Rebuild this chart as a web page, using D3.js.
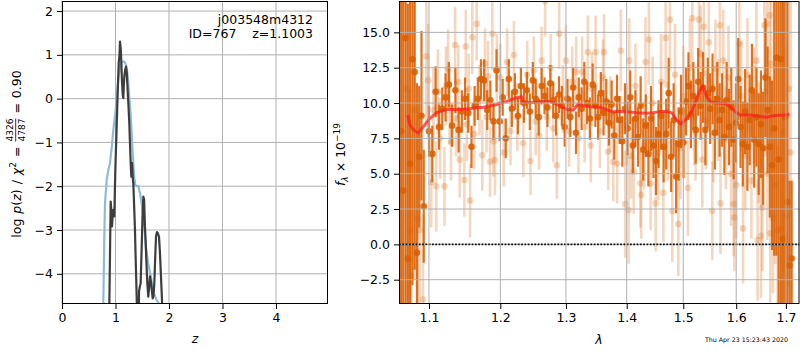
<!DOCTYPE html>
<html><head><meta charset="utf-8">
<script src="https://cdn.jsdelivr.net/npm/d3@7"></script>
<style>
body{margin:0;background:#fff}
svg{display:block}
text{font-family:"DejaVu Sans",sans-serif}
</style>
</head><body>
<svg id="c" width="800" height="350"></svg>
<script>
// ---------------- DATA ----------------
// Left panel: p(z)
const pzBlueZ = [0.76,0.772,0.79,0.804,0.835,0.87,0.897,0.93,0.96,0.99,1.01,1.05,1.08,1.10,1.146,1.17,1.196,1.22,1.24,1.26,1.29,1.32,1.35,1.37,1.40,1.43,1.458,1.49,1.52,1.55,1.57,1.61,1.66,1.71,1.77,1.83,1.9];
const pzBlueLogp = [-6,-4.69,-3.2,-2.39,-1.86,-1.6,-1.47,-1.1,-0.71,-0.4,-0.18,0.43,0.7,0.81,0.85,0.84,0.77,0.6,0.35,0.0,-0.5,-1.2,-1.8,-1.97,-2.0,-2.0,-2.16,-2.4,-2.69,-3.05,-3.38,-3.76,-4.06,-4.44,-4.6,-4.72,-5.0];
const pzDarkZ = [0.875,0.885,0.91,0.925,0.935,0.95,0.96,0.978,0.99,1.0,1.02,1.04,1.06,1.075,1.084,1.10,1.11,1.12,1.135,1.146,1.155,1.165,1.18,1.196,1.21,1.22,1.24,1.258,1.27,1.284,1.296,1.31,1.322,1.333,1.35,1.364,1.38,1.396,1.41,1.43,1.44,1.455,1.47,1.49,1.505,1.52,1.535,1.55,1.564,1.58,1.595,1.613,1.63,1.645,1.665,1.695,1.71,1.726,1.74,1.757,1.775,1.789,1.813,1.83,1.845,1.869,1.88];
const pzDarkLogp = [-6,-4.69,-2.35,-2.6,-2.92,-2.6,-2.54,-2.69,-2.0,-1.5,-0.71,0.1,0.81,1.0,1.30,1.11,0.8,0.43,0.1,0.01,0.3,0.50,0.65,0.73,0.6,0.35,-0.1,-0.56,-1.0,-1.47,-1.78,-1.47,-1.8,-1.93,-2.5,-3.0,-3.8,-4.52,-5.5,-5.5,-4.4,-4.29,-4.22,-3.38,-2.7,-2.24,-2.3,-2.9,-3.30,-3.8,-4.22,-4.52,-4.3,-4.06,-4.2,-4.56,-4.5,-4.21,-3.7,-3.15,-3.05,-3.07,-3.15,-3.5,-3.91,-4.6,-5.5];
const leftXTicks = [0,1,2,3,4];
const leftYTicks = [2,1,0,-1,-2,-3,-4];
const objName = "j003548m4312";
const objInfo = "ID=767    z=1.1003";

// Right panel: spectrum
const rightXTicks = [1.1,1.2,1.3,1.4,1.5,1.6,1.7];
const rightYTicks = [15,12.5,10,7.5,5,2.5,0,-2.5];

const darkWave = [1.0630,1.0660,1.0690,1.0720,1.0750,1.0780,1.0810,1.0840,1.0870,1.0900,1.0930,
1.1000,1.1045,1.1090,1.1135,1.1180,1.1225,1.1270,1.1315,1.1360,1.1405,1.1450,1.1495,1.1540,1.1585,1.1630,1.1675,1.1720,1.1765,1.1810,1.1855,1.1900,1.1945,1.1990,
1.2035,1.2080,1.2125,1.2170,1.2215,1.2260,1.2305,1.2350,1.2395,1.2440,1.2485,1.2530,1.2575,1.2620,1.2665,1.2710,1.2755,1.2800,1.2845,1.2890,1.2935,1.2980,
1.3025,1.3070,1.3115,1.3160,1.3205,1.3250,1.3295,1.3340,1.3385,1.3430,1.3475,1.3520,1.3565,1.3610,1.3655,1.3700,1.3745,1.3790,1.3835,1.3880,1.3925,1.3970,
1.4015,1.4060,1.4105,1.4150,1.4195,1.4240,1.4285,1.4330,1.4375,1.4420,1.4465,1.4510,1.4555,1.4600,1.4645,1.4690,1.4735,1.4780,1.4825,1.4870,1.4915,1.4960,
1.5005,1.5050,1.5095,1.5140,1.5185,1.5230,1.5275,1.5320,1.5365,1.5410,1.5455,1.5500,1.5545,1.5590,1.5635,1.5680,1.5725,1.5770,1.5815,1.5860,1.5905,1.5950,1.5995,
1.6040,1.6085,1.6130,1.6175,1.6220,1.6265,1.6310,1.6355,1.6400,1.6445,1.6490,1.6535,1.6580,1.6625,1.6670,1.6715,1.6760,1.6805,1.6850,1.6895,1.6940,1.6985,
1.7030,1.7075,1.7120];
const darkFlux = [8.0,3.8,14.6,-1.0,5.7,13.1,12.2,-0.6,6.2,9.1,2.7,
8.0,6.4,10.8,8.3,9.6,10.4,11.3,8.4,10.9,8.1,9.4,10.3,9.3,6.9,9.8,10.3,11.7,11.6,9.5,10.2,8.7,12.3,8.7,
10.4,7.5,11.7,9.6,10.8,9.1,11.2,10.0,10.9,9.4,11.6,10.3,9.0,11.2,10.5,9.7,11.4,10.2,9.1,10.6,9.8,8.3,
10.3,9.0,11.1,7.9,10.4,9.6,11.5,10.0,8.9,11.3,9.8,9.0,10.7,9.3,10.1,8.6,9.9,7.7,10.3,8.8,7.3,9.6,
8.2,10.4,7.0,8.9,7.6,9.8,6.7,8.4,6.4,8.9,7.0,5.9,7.8,9.1,6.9,7.8,10.7,6.2,8.8,4.8,7.1,9.4,
7.2,10.1,11.2,9.2,10.5,8.1,11.5,9.8,11.1,8.1,10.7,9.6,11.0,7.9,10.3,8.8,9.5,7.6,10.2,8.3,9.7,7.4,8.6,
11.7,8.3,7.1,9.4,6.9,8.8,10.9,7.4,9.0,7.1,8.5,6.8,11.8,9.5,6.9,5.6,8.2,13.2,6.0,13.1,0.4,9.0,
3.0,-1.5,-1.0];
const darkErr = [20,20,20,18,18,16,14,12,5,6,4,
1.8,2.0,1.8,1.6,1.5,1.7,1.6,1.5,1.6,1.6,1.5,1.5,1.4,1.5,1.4,1.5,1.4,1.5,1.4,1.4,1.3,1.5,1.4,
1.3,1.4,1.4,1.3,1.3,1.3,1.3,1.4,1.3,1.3,1.3,1.4,1.3,1.3,1.3,1.4,1.3,1.3,1.4,1.3,1.4,1.4,
1.4,1.4,1.4,1.5,1.4,1.5,1.4,1.5,1.5,1.5,1.5,1.6,1.5,1.6,1.6,1.6,1.7,1.7,1.7,1.7,1.8,1.8,
1.9,1.9,2.0,2.0,2.1,2.1,2.2,2.2,2.3,2.3,2.3,2.4,2.4,2.4,2.5,2.5,2.5,2.5,2.6,2.6,2.6,2.6,
2.5,2.4,2.4,2.4,2.4,2.4,2.4,2.4,2.5,2.5,2.5,2.5,2.5,2.6,2.6,2.6,2.6,2.7,2.7,2.7,2.8,2.8,2.8,
2.9,2.9,3.0,3.0,3.1,3.2,3.3,3.4,3.5,3.6,3.8,4.0,4.2,4.5,5,6,9,14,16,20,22,22,
22,6,5.5];

const lightWave = [1.0640,1.0700,1.0730,1.0749,1.0765,1.0800,1.0850,1.0875,1.0920,1.0965,
1.0990,1.1031,1.1060,1.1098,1.1120,1.1150,1.1210,1.1230,1.1260,1.1280,
1.1300,1.1356,1.1370,1.1400,1.1420,1.1485,1.1505,1.1520,1.1545,1.1565,
1.1597,1.1620,1.1660,1.1700,1.1739,1.1778,1.1800,1.1820,1.1850,1.1883,
1.1900,1.1922,1.1950,1.2000,1.2050,1.2100,1.2150,1.2200,1.2250,1.2341,
1.2400,1.2450,1.2500,1.2530,1.2581,1.2620,1.2674,1.2700,1.2760,1.2800,
1.2857,1.2893,1.2950,1.3000,1.3050,1.3100,1.3163,1.3200,1.3260,1.3300,
1.3352,1.3400,1.3420,1.3479,1.3550,1.3600,1.3619,1.3687,1.3720,1.3772,
1.3837,1.3900,1.3974,1.4000,1.4032,1.4043,1.4075,1.4119,1.4150,1.4236,
1.4250,1.4300,1.4325,1.4384,1.4414,1.4450,1.4503,1.4550,1.4600,1.4640,
1.4681,1.4720,1.4758,1.4801,1.4850,1.4910,1.4950,1.5000,1.5085,1.5120,
1.5166,1.5200,1.5227,1.5289,1.5320,1.5352,1.5381,1.5420,1.5475,1.5540,
1.5560,1.5600,1.5650,1.5684,1.5697,1.5750,1.5800,1.5850,1.5900,1.5951,
1.5965,1.6003,1.6062,1.6100,1.6134,1.6180,1.6220,1.6300,1.6350,1.6400,
1.6423,1.6450,1.6491,1.6520,1.6558,1.6580,1.6613,1.6620,1.6666,1.6680,
1.6700,1.6735,1.6780,1.6830,1.6900,1.6950,1.7000,1.7059,1.7100];
const lightFlux = [8.0,11.0,-1.1,1.0,-2.2,9.5,1.8,1.0,-3.9,13.3,
11.6,4.4,9.5,4.1,10.8,7.5,4.1,11.2,12.4,9.8,
7.2,14.1,8.9,11.5,6.0,4.55,14.0,8.5,11.0,3.1,
14.65,7.8,15.6,10.2,6.3,12.8,9.0,11.9,5.85,14.9,
7.3,5.97,12.4,11.8,6.5,12.9,8.0,13.4,9.0,7.15,
12.0,5.9,12.3,8.7,7.7,13.0,17.2,9.0,12.5,8.2,
5.6,14.9,10.3,13.0,8.0,11.5,12.2,7.5,12.2,8.3,
13.6,7.0,11.0,13.6,8.0,11.8,13.6,6.55,9.2,5.85,
5.7,13.7,2.85,8.5,2.43,13.0,6.25,5.14,11.2,4.3,
3.5,7.0,12.9,14.5,4.3,10.0,2.9,6.5,11.5,3.65,
14.6,8.0,15.9,2.36,12.0,1.44,6.8,10.5,4.0,12.5,
16.0,9.0,7.9,15.9,13.5,6.0,15.4,8.8,14.3,2.38,
7.9,12.4,9.5,15.5,2.9,13.0,7.5,11.8,5.0,2.85,
1.9,4.2,14.2,10.5,1.13,6.3,12.0,4.5,9.8,13.0,
0.3,7.2,0.6,2.6,15.5,10.8,15.6,5.0,16.2,0.78,
12.8,1.84,4.2,1.0,1.1,8.0,2.0,11.0,6.5];
const lightErr = [16,15,12,10,10,12,8,8,6,5,
4,3.2,3.0,3.2,3.0,2.9,2.8,2.8,2.8,2.7,
2.7,2.7,2.7,2.6,2.7,2.6,2.6,2.6,2.5,2.6,
2.6,2.5,2.6,2.5,2.5,2.5,2.5,2.5,2.5,2.6,
2.5,2.5,2.5,2.4,2.4,2.4,2.4,2.4,2.4,2.4,
2.4,2.4,2.4,2.4,2.4,2.4,2.5,2.4,2.4,2.4,
2.4,2.5,2.4,2.5,2.5,2.5,2.5,2.5,2.5,2.5,
2.6,2.6,2.6,2.6,2.6,2.7,2.7,2.7,2.7,2.8,
2.8,2.9,3.8,2.9,3.8,3.0,3.0,3.0,3.0,3.1,
3.1,3.1,3.2,3.2,3.3,3.3,3.4,3.4,3.4,3.5,
3.5,3.5,3.6,3.6,3.6,3.7,3.6,3.5,3.4,3.4,
3.4,3.4,3.4,3.4,3.4,3.4,3.5,3.5,3.5,3.5,
3.5,3.5,3.6,3.6,3.6,3.6,3.6,3.7,3.7,3.7,
3.8,3.8,3.8,3.9,3.9,3.9,4.0,4.1,4.1,4.2,
4.3,4.3,4.4,4.5,4.6,4.6,4.7,4.7,4.9,4.9,
5.1,5.3,5.6,6.0,7.0,10,12,14,15];

const modelWave = [1.0718,1.0749,1.0793,1.0859,1.0925,1.1014,1.1104,1.1241,1.1378,1.1565,1.1612,1.1754,1.1850,1.1947,1.2045,1.2143,1.2242,1.2317,1.2342,1.2443,1.2596,1.2698,1.2802,1.2907,1.3012,1.3118,1.3198,1.3279,1.3388,1.3497,1.3607,1.3718,1.3774,1.3830,1.3943,1.4057,1.4172,1.4346,1.4463,1.4581,1.4700,1.4790,1.4880,1.4953,1.5063,1.5155,1.5248,1.5310,1.5360,1.5435,1.5498,1.5592,1.5784,1.5880,1.5977,1.6075,1.6272,1.6472,1.6607,1.6742,1.6947,1.7073];
const modelFlux = [9.15,8.44,8.09,7.9,8.33,8.92,9.32,9.55,9.55,9.6,9.65,9.7,9.79,9.9,10.05,10.2,10.38,10.45,10.05,10.02,10.09,10.15,10.02,9.8,9.55,9.5,9.93,9.8,9.74,9.74,9.62,9.45,9.35,9.42,9.38,9.36,9.32,9.28,9.32,9.4,9.4,9.3,8.8,8.51,8.9,9.4,10.3,10.9,11.2,10.45,10.1,10.02,9.97,9.75,9.4,9.15,9.15,9.05,8.99,9.1,9.15,9.2];

const timestamp = "Thu Apr 23 15:23:43 2020";

// ---------------- DRAW ----------------
const svg = d3.select('#c');
const FS = 12.5;
const GRID = '#b0b0b0';
const ORANGE = '#d95f02';

function drawGrid(P, xs, ys, xt, yt) {
  const grid = svg.append('g');
  xt.forEach(t => grid.append('line').attr('x1', xs(t)).attr('x2', xs(t)).attr('y1', P.y0).attr('y2', P.y1)
    .attr('stroke', GRID).attr('stroke-width', 1));
  yt.forEach(t => grid.append('line').attr('y1', ys(t)).attr('y2', ys(t)).attr('x1', P.x0).attr('x2', P.x1)
    .attr('stroke', GRID).attr('stroke-width', 1));
}
function makeClip(P, id) {
  svg.append('clipPath').attr('id', id).append('rect')
    .attr('x', P.x0).attr('y', P.y0).attr('width', P.x1 - P.x0).attr('height', P.y1 - P.y0);
}
function drawFrame(P, xs, ys, xt, yt, xfmt, yfmt) {
  const ax = svg.append('g').attr('transform', `translate(0,${P.y1})`)
    .call(d3.axisBottom(xs).tickValues(xt).tickSize(5).tickPadding(4).tickFormat(xfmt));
  const ay = svg.append('g').attr('transform', `translate(${P.x0},0)`)
    .call(d3.axisLeft(ys).tickValues(yt).tickSize(5).tickPadding(4).tickFormat(yfmt));
  [ax, ay].forEach(a => {
    a.select('.domain').remove();
    a.attr('font-size', FS).attr('font-family', '"DejaVu Sans", sans-serif');
    a.selectAll('line').attr('stroke', '#000').attr('stroke-width', 1);
    a.selectAll('text').attr('fill', '#000');
  });
  svg.append('rect').attr('x', P.x0 + 0.5).attr('y', P.y0 + 0.5)
    .attr('width', P.x1 - P.x0 - 1).attr('height', P.y1 - P.y0 - 1)
    .attr('fill', 'none').attr('stroke', '#000').attr('stroke-width', 1);
}

// ---- Left panel ----
const L = {x0: 62, x1: 328, y0: 1, y1: 304};
const xL = d3.scaleLinear().domain([0, 4.972]).range([L.x0, L.x1]);
const yL = d3.scaleLinear().domain([-4.69, 2.23]).range([L.y1, L.y0]);
drawGrid(L, xL, yL, leftXTicks, leftYTicks);
makeClip(L, 'clipL');
const gL = svg.append('g').attr('clip-path', 'url(#clipL)');
const lineL = d3.line().x(d => xL(d[0])).y(d => yL(d[1]));
gL.append('path').datum(d3.zip(pzBlueZ, pzBlueLogp)).attr('d', lineL)
  .attr('fill', 'none').attr('stroke', '#8fbbd9').attr('stroke-width', 2.2).attr('stroke-linejoin', 'round');
gL.append('path').datum(d3.zip(pzDarkZ, pzDarkLogp)).attr('d', lineL)
  .attr('fill', 'none').attr('stroke', '#3d3d3d').attr('stroke-width', 2.2).attr('stroke-linejoin', 'round');
drawFrame(L, xL, yL, leftXTicks, leftYTicks, d3.format('d'), d3.format('d'));

svg.append('text').attr('x', 313).attr('y', 24).attr('text-anchor', 'end').attr('font-size', FS).text(objName);
svg.append('text').attr('x', 313).attr('y', 38.3).attr('text-anchor', 'end').attr('font-size', FS)
  .style('white-space', 'pre').text(objInfo);

// ---- Right panel ----
const RR = {x0: 399, x1: 799.5, y0: 1, y1: 304};
const xR = d3.scaleLog().domain([1.0609, 1.728]).range([399.3, 799.3]);
const yR = d3.scaleLinear().domain([-4.22, 17.22]).range([RR.y1, RR.y0]);
makeClip(RR, 'clipR');
const gR = svg.append('g').attr('clip-path', 'url(#clipR)');

function series(wave, flux, err, op, r, w) {
  const g = gR.append('g');
  wave.forEach((wv, i) => {
    g.append('line').attr('x1', xR(wv)).attr('x2', xR(wv))
      .attr('y1', yR(flux[i] - err[i])).attr('y2', yR(flux[i] + err[i]))
      .attr('stroke', ORANGE).attr('stroke-width', w).attr('stroke-opacity', op);
  });
  wave.forEach((wv, i) => {
    g.append('circle').attr('cx', xR(wv)).attr('cy', yR(flux[i])).attr('r', r)
      .attr('fill', ORANGE).attr('fill-opacity', op);
  });
}
series(lightWave, lightFlux, lightErr, 0.25, 3.3, 2.6);
series(darkWave, darkFlux, darkErr, 0.88, 3.3, 2.2);
drawGrid(RR, xR, yR, rightXTicks, rightYTicks.filter(t => t !== 0));

gR.append('path').datum(d3.zip(modelWave, modelFlux))
  .attr('d', d3.line().x(d => xR(d[0])).y(d => yR(d[1])))
  .attr('fill', 'none').attr('stroke', '#ff1a1a').attr('stroke-opacity', 0.72)
  .attr('stroke-width', 3).attr('stroke-linejoin', 'round');
// grid line at 0 sits just under the dotted zero line
gR.append('line').attr('x1', RR.x0).attr('x2', RR.x1).attr('y1', yR(0)).attr('y2', yR(0))
  .attr('stroke', GRID).attr('stroke-width', 1);
gR.append('line').attr('x1', RR.x0).attr('x2', RR.x1).attr('y1', yR(0)).attr('y2', yR(0))
  .attr('stroke', '#111').attr('stroke-width', 1.8).attr('stroke-dasharray', '1.8,1.5');
drawFrame(RR, xR, yR, rightXTicks, rightYTicks, d3.format('.1f'), d3.format('.1f'));

// ---- Labels ----
function mathLabel(cx, cy, rotate, pieces) {
  const g = svg.append('g');
  const inner = g.append('g');
  let x = 0;
  pieces.forEach(p => {
    if (p.gap) { x += p.gap; return; }
    if (p.frac) {
      const n = inner.append('text').attr('font-size', p.size).text(p.frac[0]);
      const d = inner.append('text').attr('font-size', p.size).text(p.frac[1]);
      const w = Math.max(n.node().getComputedTextLength(), d.node().getComputedTextLength());
      n.attr('x', x + w / 2).attr('y', p.ny).attr('text-anchor', 'middle');
      d.attr('x', x + w / 2).attr('y', p.dy).attr('text-anchor', 'middle');
      inner.append('line').attr('x1', x).attr('x2', x + w).attr('y1', p.ly).attr('y2', p.ly)
        .attr('stroke', '#000').attr('stroke-width', 0.8);
      x += w;
      return;
    }
    const t = inner.append('text').attr('x', x).attr('y', p.y || 0)
      .attr('font-size', p.size || FS).attr('font-style', p.it ? 'italic' : 'normal').text(p.t);
    x += t.node().getComputedTextLength();
  });
  inner.attr('transform', `translate(${-x / 2},0)`);
  g.attr('transform', `translate(${cx},${cy})` + (rotate ? ' rotate(-90)' : ''));
}
const SS = 9;
mathLabel(21, 154, true, [
  {t: 'log'}, {gap: 5}, {t: 'p', it: true}, {t: '('}, {t: 'z', it: true}, {t: ')'}, {gap: 5},
  {t: '/'}, {gap: 5}, {t: 'χ', it: true}, {t: '2', size: SS, y: -5.5}, {gap: 5}, {t: '='}, {gap: 5},
  {frac: ['4326', '4787'], size: SS, ny: -8, dy: 3.5, ly: -5.3}, {gap: 5}, {t: '='}, {gap: 5}, {t: '0.90'}
]);
mathLabel(345, 154.5, true, [
  {t: 'f', it: true}, {t: 'λ', it: true, size: SS, y: 2.5}, {gap: 4}, {t: '×'}, {gap: 4}, {t: '10'},
  {t: '−19', size: SS, y: -5.5}
]);
svg.append('text').attr('x', 195).attr('y', 343).attr('text-anchor', 'middle')
  .attr('font-size', FS).attr('font-style', 'italic').text('z');
svg.append('text').attr('x', 599).attr('y', 344).attr('text-anchor', 'middle')
  .attr('font-size', FS).attr('font-style', 'italic').text('λ');
svg.append('text').attr('x', 788).attr('y', 342).attr('text-anchor', 'end')
  .attr('font-size', 6.3).text(timestamp);
</script>
</body></html>
